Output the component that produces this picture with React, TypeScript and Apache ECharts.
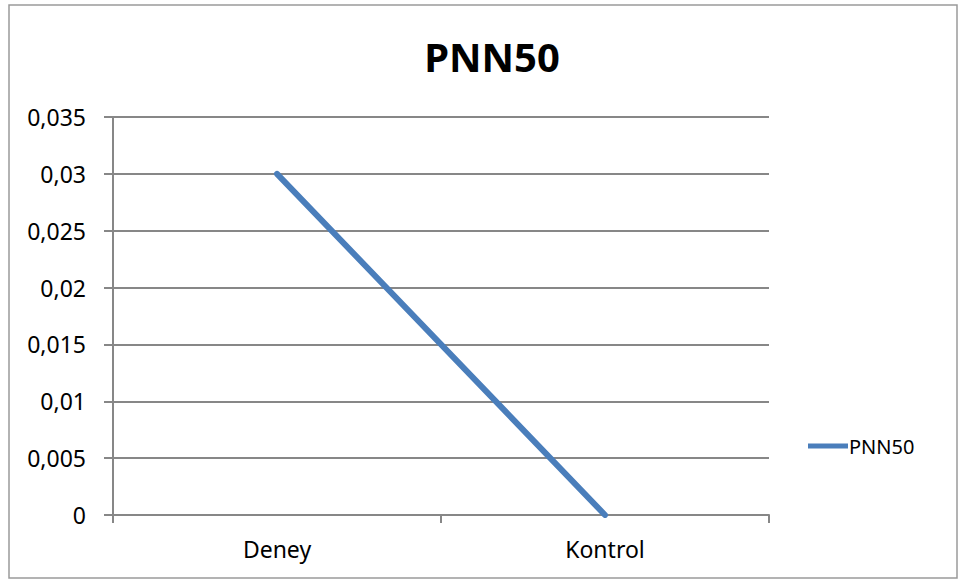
import React, { useEffect, useRef } from "react";
import * as echarts from "echarts";

// PNN50 by group
const categories: string[] = ["Deney", "Kontrol"];
const pnn50Values: number[] = [0.03, 0];
const seriesName = "PNN50";

const yMin = 0;
const yMax = 0.035;
const yStep = 0.005;

const FONT = "'Noto Sans', 'DejaVu Sans', sans-serif";
const GRID_GRAY = "#878787";
const LINE_BLUE = "#4a7ebb";

const formatComma = (v: number) =>
  Number(v.toFixed(3)).toString().replace(".", ",");

export default function App() {
  const ref = useRef<HTMLDivElement>(null);

  useEffect(() => {
    if (!ref.current) return;
    const chart = echarts.init(ref.current, undefined, { renderer: "svg" });
    chart.setOption({
      animation: false,
      backgroundColor: "#ffffff",
      textStyle: { fontFamily: FONT },
      title: {
        text: "PNN50",
        left: 487,
        top: 31,
        textAlign: "center",
        textStyle: {
          fontFamily: FONT,
          fontSize: 40,
          fontWeight: "bold",
          color: "#000000",
        },
      },
      legend: {
        left: 803,
        top: 431,
        itemWidth: 40,
        itemHeight: 5,
        itemGap: 4,
        data: [{ name: seriesName, icon: "rect" }],
        textStyle: { fontFamily: FONT, fontSize: 20, color: "#000000", padding: [0, 0, 0, -4] },
      },
      grid: { left: 113, right: 191, top: 117, bottom: 65, containLabel: false },
      xAxis: {
        type: "category",
        data: categories,
        boundaryGap: true,
        axisLine: { lineStyle: { color: GRID_GRAY, width: 2 } },
        axisTick: { show: true, length: 8, lineStyle: { color: GRID_GRAY, width: 2 } },
        axisLabel: { margin: 22, fontFamily: FONT, fontSize: 23, color: "#000000" },
        splitLine: { show: false },
      },
      yAxis: {
        type: "value",
        min: yMin,
        max: yMax,
        interval: yStep,
        axisLine: { show: true, lineStyle: { color: GRID_GRAY, width: 2 } },
        axisTick: { show: true, length: 9, lineStyle: { color: GRID_GRAY, width: 2 } },
        axisLabel: {
          margin: 27,
          fontFamily: FONT,
          fontSize: 23,
          color: "#000000",
          formatter: (v: number) => formatComma(v),
        },
        splitLine: { show: true, lineStyle: { color: GRID_GRAY, width: 2 } },
      },
      series: [
        {
          name: seriesName,
          type: "line",
          data: pnn50Values,
          symbol: "none",
          color: LINE_BLUE,
          lineStyle: { color: LINE_BLUE, width: 6, cap: "round" },
        },
      ],
      graphic: [
        {
          type: "rect",
          shape: { x: 9, y: 5, width: 948, height: 573 },
          style: { fill: "none", stroke: "#9a9a9a", lineWidth: 1.5 },
          silent: true,
        },
      ],
    });
    return () => chart.dispose();
  }, []);

  return (
    <div
      ref={ref}
      style={{ position: "fixed", left: 0, top: 0, width: 960, height: 580 }}
    />
  );
}
